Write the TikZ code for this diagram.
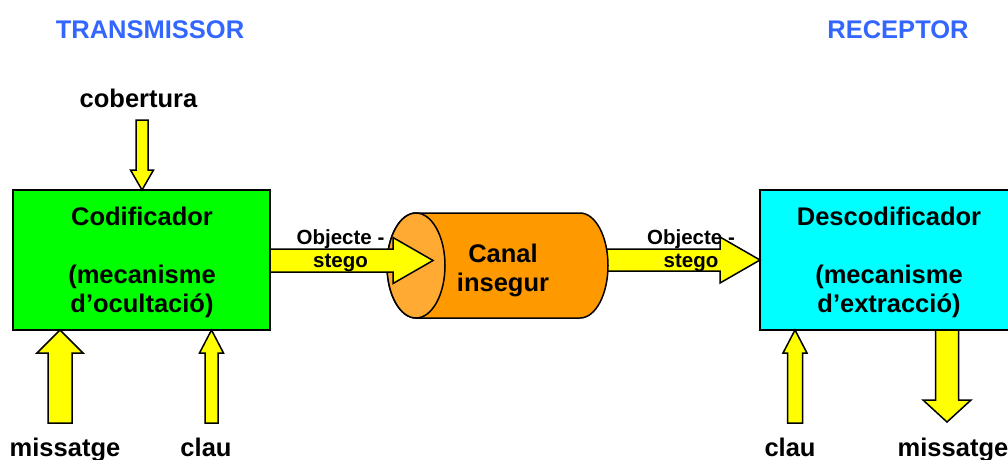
\documentclass[tikz,border=0pt]{standalone}
\usepackage{fontspec}
\setmainfont{Liberation Sans}
\definecolor{tblue}{HTML}{3366FF}
\definecolor{cgreen}{HTML}{00FF00}
\definecolor{ccyan}{HTML}{00FFFF}
\definecolor{cyell}{HTML}{FFFF00}
\definecolor{corange}{HTML}{FF9900}
\definecolor{clight}{HTML}{FFAA33}
\newcommand\myvarrow[6]{% xc, ystart, ytip, shaft half, head half, head base y
  \draw[blk] (#1-#4,#2) -- (#1-#4,#6) -- (#1-#5,#6) -- (#1,#3) -- (#1+#5,#6) -- (#1+#4,#6) -- (#1+#4,#2) -- cycle;}
\newcommand\myharrow[6]{% yc, xstart, xtip, shaft half, head half, head base x
  \draw[blk] (#2,#1-#4) -- (#6,#1-#4) -- (#6,#1-#5) -- (#3,#1) -- (#6,#1+#5) -- (#6,#1+#4) -- (#2,#1+#4) -- cycle;}
\begin{document}
\begin{tikzpicture}[x=1pt,y=-1pt,
  blk/.style={draw=black,line width=1.5pt,fill=cyell,line join=miter},
  boxst/.style={draw=black,line width=1.5pt},
  big/.style={font=\fontsize{25.5}{29}\selectfont\bfseries,inner sep=0pt,anchor=base},
  small/.style={font=\fontsize{20.5}{23}\selectfont\bfseries,inner sep=0pt,anchor=base},
  title/.style={big,text=tblue}]
\useasboundingbox (0,0) rectangle (1008,459);
\clip (0,0) rectangle (1008,459);

% titles
\node[title] (tx) at (150,38) {TRANSMISSOR};
\node[title] (rx) at (898,38) {RECEPTOR};

% boxes
\draw[boxst,fill=cgreen] (13,190) rectangle (270,330);
\node[big] (cod1) at (142,225) {Codificador};
\node[big] (cod2) at (142,283) {(mecanisme};
\node[big] (cod3) at (142,312) {d’ocultació)};

\draw[boxst,fill=ccyan] (760,190) rectangle (1030,330);
\node[big] (dec1) at (889,225) {Descodificador};
\node[big] (dec2) at (889,283) {(mecanisme};
\node[big] (dec3) at (889,312) {d’extracció)};

% arrow 2 (behind the channel)
\myharrow{260}{590}{760}{11}{23}{720}

% channel cylinder
\draw[boxst,fill=corange] (416,213) -- (580,213)
  arc[start angle=-90,end angle=90,x radius=28,y radius=52.5]
  -- (416,318) arc[start angle=90,end angle=270,x radius=29,y radius=52.5] -- cycle;
\draw[boxst,fill=clight] (416,265.5) ellipse [x radius=29,y radius=52.5];
\node[big] (can1) at (503,262) {Canal};
\node[big] (can2) at (503,291) {insegur};

% arrow 1
\myharrow{260.5}{270}{433}{11.5}{23}{393}

% labels on horizontal arrows
\node[small] (o1a) at (340.5,244) {Objecte -};
\node[small] (o1b) at (340.5,267) {stego};
\node[small] (o2a) at (691,244) {Objecte -};
\node[small] (o2b) at (691,267) {stego};

% vertical arrows
\myvarrow{142}{120}{190}{6}{11.5}{170}
\myvarrow{60}{423}{330}{12}{23}{353}
\myvarrow{211.5}{423}{330}{6.5}{12}{353}
\myvarrow{795}{423}{330}{7.5}{12}{353}
\myvarrow{947}{330}{422}{11.5}{24}{400}

% labels
\node[big] (cob) at (138.5,107) {cobertura};
\node[big] (m1) at (65,456) {missatge};
\node[big] (k1) at (206,456) {clau};
\node[big] (k2) at (790,456) {clau};
\node[big] (m2) at (953,456) {missatge};
\end{tikzpicture}
\end{document}
